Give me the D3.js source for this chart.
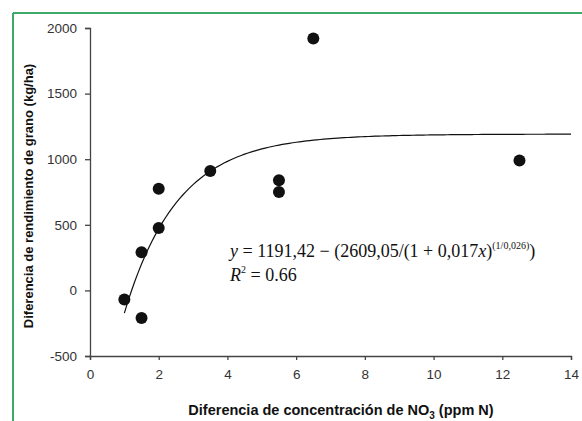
<!DOCTYPE html>
<html>
<head>
<meta charset="utf-8">
<script src="https://cdn.jsdelivr.net/npm/d3@7"></script>
<style>
  body { margin: 0; background: #fff; }
  .tick text { font-family: "Liberation Sans", Arial, sans-serif; font-size: 13.5px; fill: #333; }
  .axis-title { font-family: "Liberation Sans", Arial, sans-serif; font-weight: bold; fill: #111; }
  .eq { font-family: "Liberation Serif", "Times New Roman", serif; font-size: 18px; fill: #111; }
</style>
</head>
<body>
<div id="chart"></div>
<script>
// observed points (x = diferencia NO3, y = diferencia rendimiento)
var xVals = [1, 1.5, 1.5, 2, 2, 3.5, 5.5, 5.5, 6.5, 12.5];
var yVals = [-70, -210, 290, 775, 475, 910, 840, 750, 1920, 990];
var xTicks = [0, 2, 4, 6, 8, 10, 12, 14];
var yTicks = [-500, 0, 500, 1000, 1500, 2000];
// fitted model shown on chart
var fitA = 1191.42, fitB = 2609.05, fitC = 0.017, fitD = 0.026;
var fitRange = [1, 14];

var W = 582, H = 421;
var margin = { top: 28, right: 12, bottom: 65, left: 90 };
var width = W - margin.left - margin.right,
    height = H - margin.top - margin.bottom;

var svg = d3.select('#chart').append('svg')
  .attr('width', W)
  .attr('height', H);

// green frame (top + left)
svg.append('line').attr('x1', 13).attr('x2', W).attr('y1', 13).attr('y2', 13)
  .attr('stroke', '#3daa6a').attr('stroke-width', 2);
svg.append('line').attr('x1', 13).attr('x2', 13).attr('y1', 13).attr('y2', H)
  .attr('stroke', '#3daa6a').attr('stroke-width', 2);

var g = svg.append('g')
  .attr('transform', 'translate(' + margin.left + ',' + margin.top + ')');

var x = d3.scaleLinear().domain([0, 14]).range([0, 481]);
var y = d3.scaleLinear().domain([-500, 2000]).range([height, 0]);

var fmt = function (d) { return String(d); };

g.append('g')
  .attr('transform', 'translate(0,' + height + ')')
  .call(d3.axisBottom(x).tickValues(xTicks).tickFormat(fmt).tickSize(4).tickPadding(9));
g.append('g')
  .call(d3.axisLeft(y).tickValues(yTicks).tickFormat(fmt).tickSize(5).tickPadding(8));
g.selectAll('.domain, .tick line').attr('stroke', '#444').attr('stroke-width', 1.3);

// axis titles
var xt = g.append('text').attr('class', 'axis-title')
  .attr('font-size', '14.5px')
  .attr('x', 251).attr('y', height + 59)
  .attr('text-anchor', 'middle');
xt.append('tspan').text('Diferencia de concentración de NO');
xt.append('tspan').attr('dy', 4).attr('font-size', '10px').text('3');
xt.append('tspan').attr('dy', -4).text(' (ppm N)');

g.append('text').attr('class', 'axis-title')
  .attr('font-size', '13px')
  .attr('transform', 'translate(-57,' + (height / 2 + 4) + ') rotate(-90)')
  .attr('text-anchor', 'middle')
  .text('Diferencia de rendimiento de grano (kg/ha)');

// fitted curve
var curvePts = d3.range(fitRange[0], fitRange[1] + 0.001, 0.1).map(function (v) {
  return [v, fitA - fitB / Math.pow(1 + fitC * v, 1 / fitD)];
});
g.append('path')
  .datum(curvePts)
  .attr('fill', 'none')
  .attr('stroke', '#111')
  .attr('stroke-width', 1.2)
  .attr('d', d3.line()
    .x(function (d) { return x(d[0]); })
    .y(function (d) { return y(d[1]); }));

// points
g.selectAll('.pt')
  .data(xVals)
  .enter().append('circle')
  .attr('class', 'pt')
  .attr('cx', function (d) { return x(d); })
  .attr('cy', function (d, i) { return y(yVals[i]); })
  .attr('r', 6)
  .attr('fill', '#111');

// equation
var eq = g.append('text').attr('class', 'eq').attr('x', 140).attr('y', 229);
eq.append('tspan').attr('font-style', 'italic').text('y');
eq.append('tspan').text(' = 1191,42 \u2212 (2609,05/(1 + 0,017');
eq.append('tspan').attr('font-style', 'italic').text('x');
eq.append('tspan').text(')');
eq.append('tspan').attr('dy', -8).attr('font-size', '10px').text('(1/0,026)');
eq.append('tspan').attr('dy', 8).text(')');

var r2 = g.append('text').attr('class', 'eq').attr('x', 140).attr('y', 253);
r2.append('tspan').attr('font-style', 'italic').text('R');
r2.append('tspan').attr('dy', -8).attr('font-size', '10px').text('2');
r2.append('tspan').attr('dy', 8).text(' = 0.66');
</script>
</body>
</html>
